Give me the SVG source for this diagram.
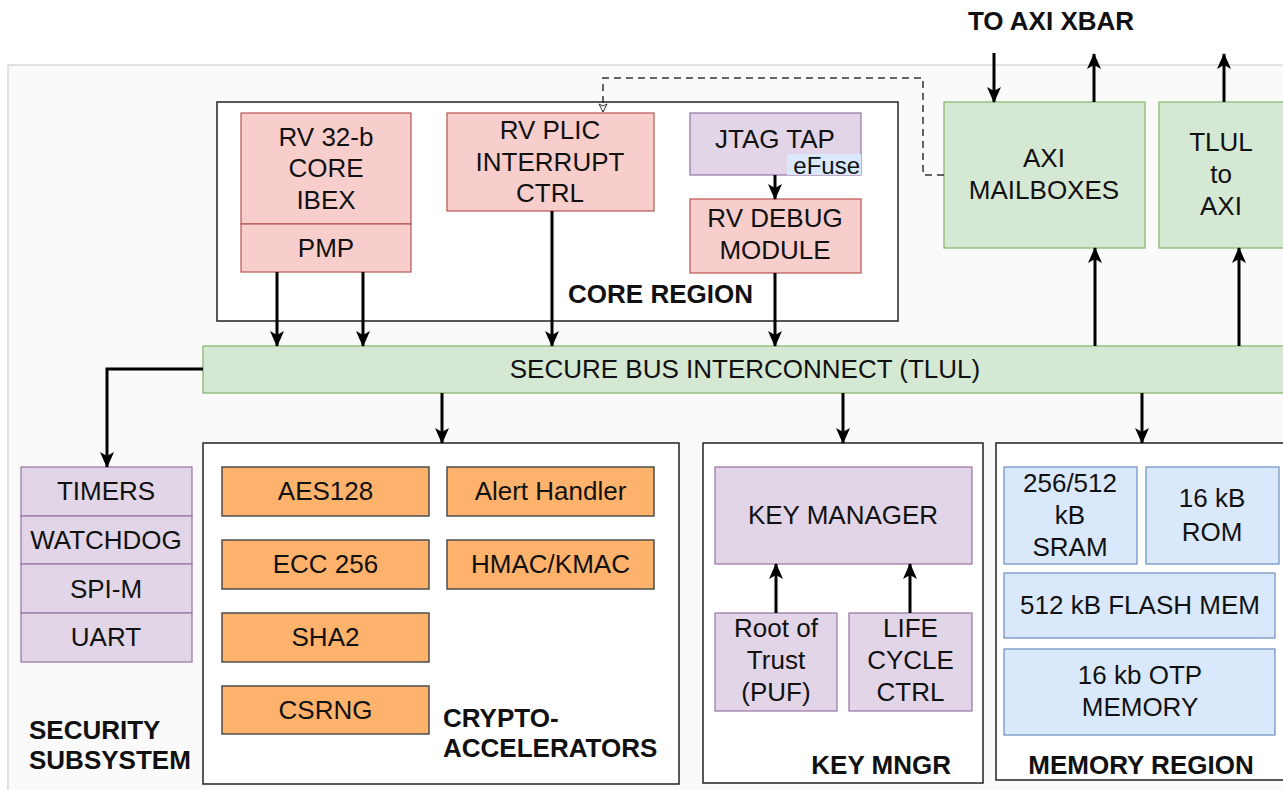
<svg xmlns="http://www.w3.org/2000/svg" width="1283" height="790" viewBox="0 0 1283 790">
<defs>
<marker id="ah" markerUnits="userSpaceOnUse" markerWidth="16" markerHeight="16" viewBox="0 0 16 16" refX="15" refY="8" orient="auto">
<path d="M0,1 L16,8 L0,15 L4,8 Z" fill="#000"/>
</marker>
<marker id="ahs" markerUnits="userSpaceOnUse" markerWidth="10" markerHeight="10" viewBox="0 0 10 10" refX="9" refY="5" orient="auto">
<path d="M1,1 L9,5 L1,9 L3,5 Z" fill="#fff" stroke="#333" stroke-width="1"/>
</marker>
<style>
.t{font-family:"Liberation Sans",Arial,sans-serif;font-size:26px;fill:#111;text-anchor:middle}
.b{font-family:"Liberation Sans",Arial,sans-serif;font-size:26px;font-weight:bold;fill:#111}
.pink{fill:#f8cecc;stroke:#b85450;stroke-width:1.2}
.green{fill:#d5e8d4;stroke:#82b366;stroke-width:1.2}
.purple{fill:#e1d5e7;stroke:#9673a6;stroke-width:1.2}
.blue{fill:#dae8fc;stroke:#6c8ebf;stroke-width:1.2}
.orange{fill:#ffb26b;stroke:#4d4d4d;stroke-width:1.5}
.region{fill:#fff;stroke:#222;stroke-width:1.5}
.c{fill:none;stroke:#000;stroke-width:3;marker-end:url(#ah)}
</style>
</defs>
<rect x="0" y="0" width="1283" height="790" fill="#fff"/>
<rect id="background" x="8" y="65" width="1285" height="735" fill="#fafafa" stroke="#d9d9d9" stroke-width="1.5"/>

<g id="core-region">
<rect class="region" x="217" y="102" width="681" height="219"/>
<text class="b" x="753" y="303" text-anchor="end">CORE REGION</text>
</g>
<g id="rv-core">
<rect class="pink" x="241" y="113" width="170" height="111"/>
<rect class="pink" x="241" y="224" width="170" height="48"/>
<text class="t" x="326" y="146">RV 32-b</text>
<text class="t" x="326" y="177">CORE</text>
<text class="t" x="326" y="209">IBEX</text>
<text class="t" x="326" y="257">PMP</text>
</g>
<g id="rv-plic">
<rect class="pink" x="447" y="113" width="207" height="98"/>
<text class="t" x="550" y="139">RV PLIC</text>
<text class="t" x="550" y="171">INTERRUPT</text>
<text class="t" x="550" y="202">CTRL</text>
</g>
<g id="jtag-tap">
<rect class="purple" x="690" y="113" width="171" height="62"/>
<rect x="787" y="154" width="74" height="21" fill="#dae8fc"/>
<text class="t" x="775" y="148">JTAG TAP</text>
<text class="t" x="860" y="174" style="text-anchor:end;font-size:24px">eFuse</text>
</g>
<g id="rv-debug">
<rect class="pink" x="690" y="199" width="171" height="74"/>
<text class="t" x="775" y="227">RV DEBUG</text>
<text class="t" x="775" y="259">MODULE</text>
</g>
<g id="axi-mailboxes">
<rect class="green" x="944" y="102" width="201" height="146"/>
<text class="t" x="1044" y="167">AXI</text>
<text class="t" x="1044" y="199">MAILBOXES</text>
</g>
<g id="tlul-to-axi">
<rect class="green" x="1159" y="102" width="140" height="146"/>
<text class="t" x="1221" y="151">TLUL</text>
<text class="t" x="1221" y="183">to</text>
<text class="t" x="1221" y="215">AXI</text>
</g>
<g id="to-axi-xbar">
<text class="b" x="1051" y="30" text-anchor="middle">TO AXI XBAR</text>
</g>
<g id="bus">
<rect class="green" x="203" y="346" width="1090" height="47"/>
<text class="t" x="745" y="378">SECURE BUS INTERCONNECT (TLUL)</text>
</g>

<g id="security-subsystem">
<rect class="purple" x="21" y="467" width="171" height="49"/>
<rect class="purple" x="21" y="516" width="171" height="48"/>
<rect class="purple" x="21" y="564" width="171" height="49"/>
<rect class="purple" x="21" y="613" width="171" height="49"/>
<text class="t" x="106" y="500">TIMERS</text>
<text class="t" x="106" y="549">WATCHDOG</text>
<text class="t" x="106" y="598">SPI-M</text>
<text class="t" x="106" y="646">UART</text>
<text class="b" x="29" y="739">SECURITY</text>
<text class="b" x="29" y="769">SUBSYSTEM</text>
</g>

<g id="crypto-accelerators">
<rect class="region" x="203" y="443" width="476" height="341"/>
<text class="b" x="443" y="727">CRYPTO-</text>
<text class="b" x="443" y="757">ACCELERATORS</text>
</g>
<g id="aes128"><rect class="orange" x="222" y="467" width="207" height="49"/><text class="t" x="325.5" y="500">AES128</text></g>
<g id="alert-handler"><rect class="orange" x="447" y="467" width="207" height="49"/><text class="t" x="550.5" y="500">Alert Handler</text></g>
<g id="ecc256"><rect class="orange" x="222" y="540" width="207" height="49"/><text class="t" x="325.5" y="573">ECC 256</text></g>
<g id="hmac-kmac"><rect class="orange" x="447" y="540" width="207" height="49"/><text class="t" x="550.5" y="573">HMAC/KMAC</text></g>
<g id="sha2"><rect class="orange" x="222" y="613" width="207" height="49"/><text class="t" x="325.5" y="646">SHA2</text></g>
<g id="csrng"><rect class="orange" x="222" y="686" width="207" height="48"/><text class="t" x="325.5" y="719">CSRNG</text></g>

<g id="key-mngr">
<rect class="region" x="703" y="443" width="280" height="340"/>
<text class="b" x="951" y="774" text-anchor="end">KEY MNGR</text>
</g>
<g id="key-manager"><rect class="purple" x="715" y="467" width="257" height="97"/><text class="t" x="843" y="524">KEY MANAGER</text></g>
<g id="root-of-trust"><rect class="purple" x="715" y="613" width="122" height="98"/>
<text class="t" x="776" y="637">Root of</text><text class="t" x="776" y="669">Trust</text><text class="t" x="776" y="701">(PUF)</text></g>
<g id="life-cycle"><rect class="purple" x="849" y="613" width="123" height="98"/>
<text class="t" x="910.5" y="637">LIFE</text><text class="t" x="910.5" y="669">CYCLE</text><text class="t" x="910.5" y="701">CTRL</text></g>

<g id="memory-region">
<rect class="region" x="996" y="443" width="297" height="337"/>
<text class="b" x="1141" y="774" text-anchor="middle">MEMORY REGION</text>
</g>
<g id="sram"><rect class="blue" x="1004" y="467" width="133" height="97"/>
<text class="t" x="1070" y="492">256/512</text><text class="t" x="1070" y="524">kB</text><text class="t" x="1070" y="556">SRAM</text></g>
<g id="rom"><rect class="blue" x="1146" y="467" width="133" height="97"/>
<text class="t" x="1212" y="507">16 kB</text><text class="t" x="1212" y="541">ROM</text></g>
<g id="flash"><rect class="blue" x="1004" y="573" width="271" height="65"/><text class="t" x="1140" y="614">512 kB FLASH MEM</text></g>
<g id="otp"><rect class="blue" x="1004" y="649" width="271" height="86"/>
<text class="t" x="1140" y="684">16 kb OTP</text><text class="t" x="1140" y="716">MEMORY</text></g>

<g id="connectors">
<path class="c" d="M277,272 V346"/>
<path class="c" d="M363,272 V346"/>
<path class="c" d="M552,211 V346"/>
<path class="c" d="M775,273 V346"/>
<path class="c" d="M775,175 V199"/>
<path class="c" d="M994,53 V102"/>
<path class="c" d="M1094,102 V54"/>
<path class="c" d="M1224,102 V54"/>
<path class="c" d="M1095,346 V248"/>
<path class="c" d="M1239,346 V248"/>
<path class="c" d="M203,369 H107 V467"/>
<path class="c" d="M442,393 V443"/>
<path class="c" d="M843,393 V443"/>
<path class="c" d="M1142,393 V443"/>
<path class="c" d="M776,613 V564"/>
<path class="c" d="M910,613 V564"/>
<path d="M944,175 H923 V78 H603 V112" fill="none" stroke="#333" stroke-width="1.5" stroke-dasharray="7,5" marker-end="url(#ahs)"/>
</g>
</svg>
